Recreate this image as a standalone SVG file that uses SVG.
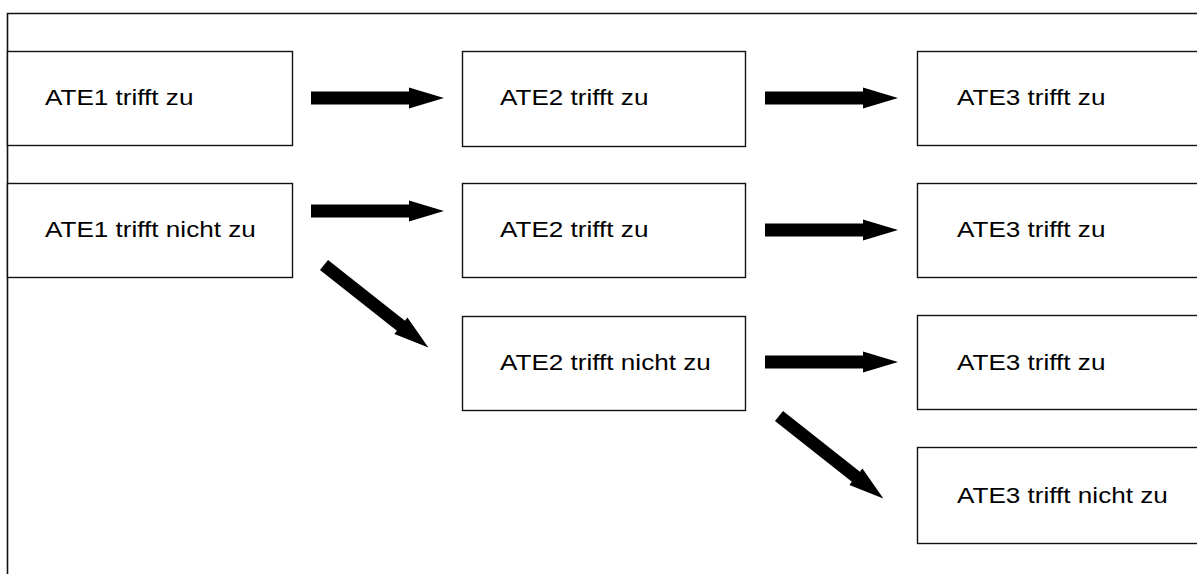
<svg xmlns="http://www.w3.org/2000/svg" xmlns:xlink="http://www.w3.org/1999/xlink" width="1197" height="574" viewBox="0 0 1197 574">
  <style>
    .box { fill: #ffffff; stroke: #111111; stroke-width: 1.4; }
    .frame { fill: none; stroke: #111111; stroke-width: 1.6; }
    .label { font-family: "Liberation Sans", Arial, sans-serif; font-size: 22.5px; fill: #000000; }
    .arrow { fill: #000000; }
  </style>
  <defs>
    <!-- block arrow pointing right, 133 px long, origin at the tail centre -->
    <polygon id="blockArrow" points="0,-6.5 98,-6.5 98,-10.5 133,0 98,10.5 98,6.5 0,6.5"/>
  </defs>

  <rect width="1197" height="574" fill="#ffffff"/>

  <!-- outer frame: top and left edges -->
  <path class="frame" d="M7.5,574 V13.5 H1197"/>

  <!-- column 1 -->
  <g id="ate1-zu">
    <rect class="box" x="7.5" y="51.5" width="285" height="94"/>
    <text class="label" transform="translate(45,105) scale(1.16,1)">ATE1 trifft zu</text>
  </g>
  <g id="ate1-nicht">
    <rect class="box" x="7.5" y="183.5" width="285" height="94"/>
    <text class="label" transform="translate(45,237) scale(1.16,1)">ATE1 trifft nicht zu</text>
  </g>

  <!-- column 2 -->
  <g id="ate2-zu-a">
    <rect class="box" x="462.5" y="51.5" width="283" height="95"/>
    <text class="label" transform="translate(500,105) scale(1.16,1)">ATE2 trifft zu</text>
  </g>
  <g id="ate2-zu-b">
    <rect class="box" x="462.5" y="183.5" width="283" height="94"/>
    <text class="label" transform="translate(500,237) scale(1.16,1)">ATE2 trifft zu</text>
  </g>
  <g id="ate2-nicht">
    <rect class="box" x="462.5" y="316.5" width="283" height="94"/>
    <text class="label" transform="translate(500,370) scale(1.16,1)">ATE2 trifft nicht zu</text>
  </g>

  <!-- column 3 (runs past the right edge) -->
  <g id="ate3-zu-a">
    <rect class="box" x="917.5" y="51.5" width="300" height="94"/>
    <text class="label" transform="translate(957,105) scale(1.16,1)">ATE3 trifft zu</text>
  </g>
  <g id="ate3-zu-b">
    <rect class="box" x="917.5" y="183.5" width="300" height="94"/>
    <text class="label" transform="translate(957,237) scale(1.16,1)">ATE3 trifft zu</text>
  </g>
  <g id="ate3-zu-c">
    <rect class="box" x="917.5" y="315.5" width="300" height="94"/>
    <text class="label" transform="translate(957,370) scale(1.16,1)">ATE3 trifft zu</text>
  </g>
  <g id="ate3-nicht">
    <rect class="box" x="917.5" y="447.5" width="300" height="96"/>
    <text class="label" transform="translate(957,503) scale(1.16,1)">ATE3 trifft nicht zu</text>
  </g>

  <!-- connectors -->
  <g id="connectors" class="arrow">
    <use xlink:href="#blockArrow" transform="translate(311,98)"/>
    <use xlink:href="#blockArrow" transform="translate(311,211)"/>
    <use xlink:href="#blockArrow" transform="translate(324,265) rotate(38.3)"/>
    <use xlink:href="#blockArrow" transform="translate(765,98)"/>
    <use xlink:href="#blockArrow" transform="translate(765,230)"/>
    <use xlink:href="#blockArrow" transform="translate(765,362)"/>
    <use xlink:href="#blockArrow" transform="translate(779,416) rotate(38.3)"/>
  </g>
</svg>
